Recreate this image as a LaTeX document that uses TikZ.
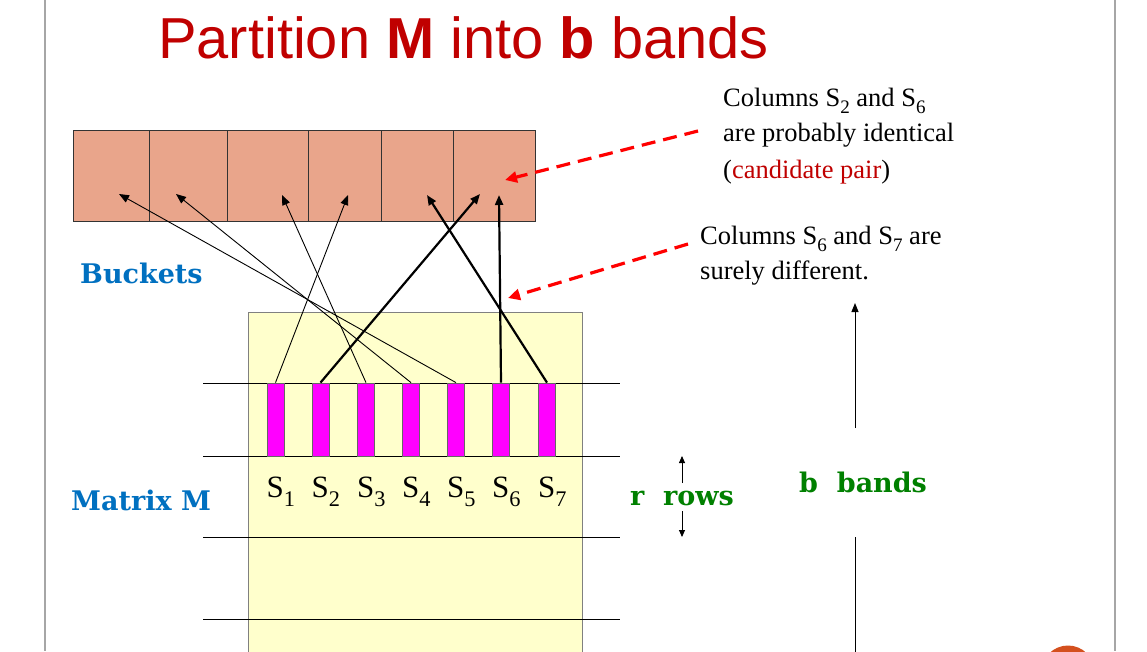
\documentclass[tikz,border=0pt]{standalone}
\usepackage{fontspec}
\usepackage{graphicx}
\setmainfont{Liberation Serif}
\newfontfamily\titlefont{Liberation Sans}
\newfontfamily\labfont{DejaVu Serif}
\usetikzlibrary{arrows.meta}
\definecolor{titlered}{HTML}{C00000}
\definecolor{bucketfill}{HTML}{E9A58B}
\definecolor{matfill}{HTML}{FFFFCC}
\definecolor{labblue}{HTML}{0070C0}
\definecolor{labgreen}{HTML}{008000}
\definecolor{slidegray}{HTML}{A6A6A6}
\definecolor{dotorange}{HTML}{D4501E}
\definecolor{notered}{HTML}{C00000}
\definecolor{barmagenta}{HTML}{FF00FF}
\newcommand{\dnsub}[1]{\raisebox{-0.3em}{\scalebox{0.72}{#1}}}
\begin{document}
\begin{tikzpicture}[x=1pt,y=-1pt,
  bucket/.style={draw=black!80, line width=1.2pt, fill=bucketfill, inner sep=0pt, minimum height=91pt, anchor=north west},
  colbar/.style={draw=black!60, line width=0.8pt, fill=barmagenta, inner sep=0pt, minimum width=17pt, minimum height=73pt},
  thinlink/.style={line width=0.9pt, -{Triangle[length=10pt,width=8pt]}},
  thicklink/.style={line width=2.2pt, -{Triangle[length=10pt,width=8pt]}},
  hint/.style={draw=red, line width=3.2pt, dash pattern=on 14pt off 8pt, -{Triangle[length=12pt,width=11pt]}},
  note/.style={anchor=base west, inner sep=0pt, font=\fontsize{26.5}{32}\selectfont},
  lab/.style={anchor=base west, inner sep=0pt, font=\labfont\bfseries\fontsize{27}{32}\selectfont},
  slab/.style={anchor=base west, inner sep=0pt, font=\fontsize{31}{36}\selectfont},
  bandline/.style={line width=1pt, black},
  sizearrow/.style={line width=1pt, -{Triangle[length=9pt,width=7pt]}},
  smallarrow/.style={line width=0.9pt, -{Triangle[length=7pt,width=6pt]}},
]
\clip (0,0) rectangle (1147,651);
\fill[white] (0,0) rectangle (1147,651);
% slide frame
\draw[slidegray, line width=2pt] (45,0) -- (45,651);
\draw[slidegray, line width=2pt] (1115,0) -- (1115,651);
\fill[dotorange] (1068,672) circle (26.5);
% title
\node[anchor=base west, inner sep=0pt, text=titlered, font=\titlefont\fontsize{57.8}{60}\selectfont] (title) at (158,58) {Partition \textbf{M} into \textbf{b} bands};
% matrix
\node[draw=black!50, line width=1.2pt, fill=matfill, anchor=north west, inner sep=0pt, minimum width=334pt, minimum height=360pt] (mat) at (248,312) {};
\foreach \y in {383,456,537,619} \draw[bandline] (203,\y) -- (620,\y);
% column bars
\foreach \i/\x in {1/275.5,2/320.5,3/366,4/411,5/456,6/501,7/547} {
  \node[colbar] (s\i) at (\x,419.5) {};
  \node[slab] (sl\i) at (\x-9,497) {S\dnsub{\i}};
}
% buckets
\node[bucket, minimum width=76pt] (b1) at (73,130) {};
\node[bucket, minimum width=78pt] (b2) at (149,130) {};
\node[bucket, minimum width=81pt] (b3) at (227,130) {};
\node[bucket, minimum width=73pt] (b4) at (308,130) {};
\node[bucket, minimum width=72pt] (b5) at (381,130) {};
\node[bucket, minimum width=82pt] (b6) at (453,130) {};
% arrow targets
\coordinate (t1) at (119,194);
\coordinate (t2) at (176,194);
\coordinate (t3) at (282,195);
\coordinate (t4) at (348,195);
\coordinate (t5) at (427,195);
\coordinate (t6a) at (480,194);
\coordinate (t6b) at (499,195);
% links
\draw[thinlink] (s1.north) -- (t4);
\draw[thicklink] (s2.north) -- (t6a);
\draw[thinlink] (s3.north) -- (t3);
\draw[thinlink] (s4.north) -- (t2);
\draw[thinlink] (s5.north) -- (t1);
\draw[thicklink] (s6.north) -- (t6b);
\draw[thicklink] (s7.north) -- (t5);
% labels
\node[lab, text=labblue] (buckets) at (80,283) {Buckets};
\node[lab, text=labblue] (matlab) at (71,510) {Matrix M};
\node[lab, text=labgreen] (rrows) at (630,505) {r\ \ rows};
\node[lab, text=labgreen] (bbands) at (799,492) {b\ \ bands};
% r rows arrows
\coordinate (r1) at (682,483);
\coordinate (r1t) at (682,456);
\coordinate (r2) at (682,511);
\coordinate (r2t) at (682,537);
\draw[smallarrow] (r1) -- (r1t);
\draw[smallarrow] (r2) -- (r2t);
% b bands arrow
\coordinate (bb1) at (855,428);
\coordinate (bb1t) at (855,303);
\coordinate (bb2) at (855,537);
\coordinate (bb2e) at (855,660);
\draw[sizearrow] (bb1) -- (bb1t);
\draw[bandline] (bb2) -- (bb2e);
% notes
\node[note] (n1a) at (723,106) {Columns S\dnsub{2} and S\dnsub{6}};
\node[note] (n1b) at (723,141) {are probably identical};
\node[note] (n1c) at (723,178) {(\textcolor{notered}{candidate pair})};
\node[note] (n2a) at (700,244) {Columns S\dnsub{6} and S\dnsub{7} are};
\node[note] (n2b) at (700,279) {surely different.};
\coordinate (h1s) at (698,131);
\coordinate (h1t) at (505,180);
\coordinate (h2s) at (688,244);
\coordinate (h2t) at (508,298);
\draw[hint] (h1s) -- (h1t);
\draw[hint] (h2s) -- (h2t);
\end{tikzpicture}
\end{document}
